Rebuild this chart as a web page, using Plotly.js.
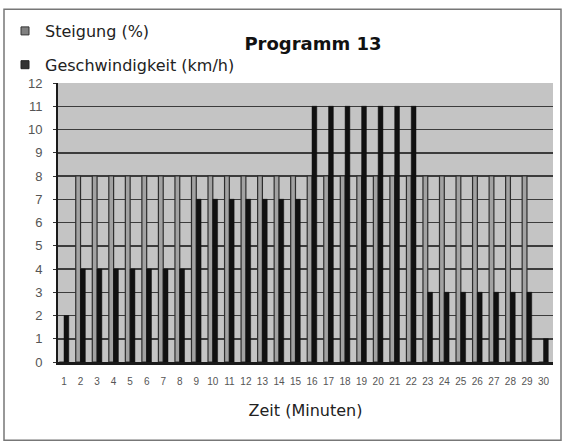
<!DOCTYPE html>
<html>
<head>
<meta charset="utf-8">
<script src="https://cdn.plot.ly/plotly-3.0.1.min.js"></script>
<style>html,body{margin:0;padding:0;background:#fff;}#chart{width:565px;height:443px;}</style>
</head>
<body>
<div id="chart"></div>
<script>
const minutes = [1,2,3,4,5,6,7,8,9,10,11,12,13,14,15,16,17,18,19,20,21,22,23,24,25,26,27,28,29,30];
const minuteLabels = ["1","2","3","4","5","6","7","8","9","10","11","12","13","14","15","16","17","18","19","20","21","22","23","24","25","26","27","28","29","30"];
const steigung = [0,8,8,8,8,8,8,8,8,8,8,8,8,8,8,8,8,8,8,8,8,8,8,8,8,8,8,8,8,0];
const geschwindigkeit = [2,4,4,4,4,4,4,4,7,7,7,7,7,7,7,11,11,11,11,11,11,11,3,3,3,3,3,3,3,1];
const yTicks = [0,1,2,3,4,5,6,7,8,9,10,11,12];
const seriesNames = ["Steigung (%)", "Geschwindigkeit (km/h)"];

const PL = 58, PR = 553, PT = 83, PB = 362.5;
const PW = PR - PL, PH = PB - PT;
function px(x){ return (x - PL) / PW; }
function py(y){ return (PB - y) / PH; }

const traces = [
  {type:'bar', x:minutes, y:steigung, name:seriesNames[0], showlegend:false,
   marker:{color:'#a2a2a2', line:{color:'#2e2e2e', width:1.2}}},
  {type:'bar', x:minutes, y:geschwindigkeit, name:seriesNames[1], showlegend:false,
   marker:{color:'#111111', line:{color:'#111111', width:0.5}}},
  {type:'scatter', mode:'markers', x:[null], y:[null], name:seriesNames[0], legendgroup:'a',
   marker:{symbol:'square', size:8, color:'#808080', line:{color:'#333', width:1}}},
  {type:'scatter', mode:'markers', x:[null], y:[null], name:seriesNames[1], legendgroup:'b',
   marker:{symbol:'square', size:8, color:'#333333', line:{color:'#222', width:1}}}
];

const layout = {
  width:565, height:443,
  margin:{l:PL, r:565-PR, t:PT, b:443-PB, pad:0, autoexpand:false},
  paper_bgcolor:'#ffffff', plot_bgcolor:'#c4c4c4',
  barmode:'group', bargap:0.42, bargroupgap:0,
  font:{family:'DejaVu Sans', color:'#222'},
  title:{text:'Programm 13', font:{family:'DejaVu Sans', size:18, color:'#111', weight:'bold'},
         xref:'container', x:313/565, xanchor:'center', yref:'container', y:1-44/443, yanchor:'middle'},
  xaxis:{range:[0.637,30.575], tickmode:'array', tickvals:minutes, ticktext:minuteLabels,
         showgrid:false, zeroline:false, showline:true, linecolor:'#1a1a1a', linewidth:2.5,
         ticks:'', ticklabelstandoff:8, tickangle:0, automargin:false,
         tickfont:{family:'Liberation Sans', size:10, color:'#555'},
         title:{text:'Zeit (Minuten)', font:{family:'DejaVu Sans', size:16, color:'#222'}, standoff:20}},
  yaxis:{range:[0,12], tickmode:'array', tickvals:yTicks, automargin:false,
         showgrid:true, gridcolor:'#3c3c3c', gridwidth:1.5, zeroline:false,
         showline:true, linecolor:'#1a1a1a', linewidth:2,
         ticks:'outside', ticklen:3, tickcolor:'#333', ticklabelstandoff:8,
         tickfont:{family:'Liberation Sans', size:13, color:'#555'}},
  legend:{xref:'container', yref:'container', x:5/565, y:1-14/443, xanchor:'left', yanchor:'top',
          bgcolor:'rgba(0,0,0,0)', font:{family:'DejaVu Sans', size:16, color:'#222'},
          tracegroupgap:10, itemwidth:30},
  shapes:[{type:'rect', xref:'paper', yref:'paper', x0:px(4), x1:px(561), y0:py(441), y1:py(9),
           line:{color:'#777', width:1.5}, fillcolor:'rgba(0,0,0,0)'}]
};

Plotly.newPlot('chart', traces, layout, {displayModeBar:false, staticPlot:true});
</script>
</body>
</html>
